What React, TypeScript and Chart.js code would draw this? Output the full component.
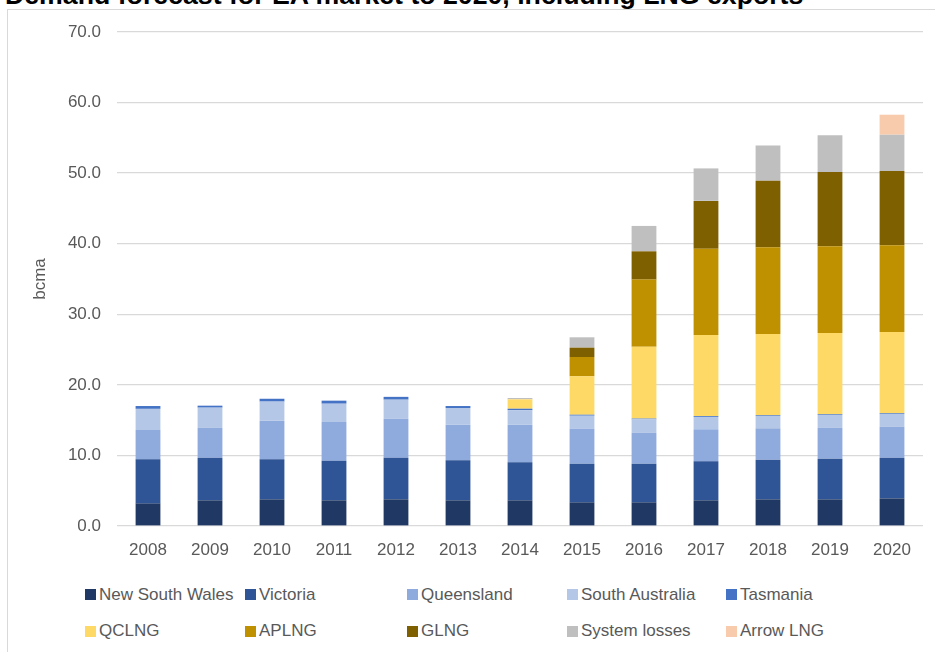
import React, { useEffect, useRef } from "react";
import { Chart, registerables } from "chart.js";

Chart.register(...registerables);

const FONT = '"Liberation Sans", Arial, sans-serif';
const TEXT_COLOR = "#595959";
const GRID_COLOR = "#d9d9d9";

const TITLE = "Demand forecast for EA market to 2020, including LNG exports";
const Y_TITLE = "bcma";

const years = ["2008", "2009", "2010", "2011", "2012", "2013", "2014", "2015", "2016", "2017", "2018", "2019", "2020"];
const yTicks = [0, 10, 20, 30, 40, 50, 60, 70];

const newSouthWales = [3.2, 3.64, 3.78, 3.64, 3.78, 3.64, 3.64, 3.36, 3.36, 3.64, 3.78, 3.78, 3.92];
const victoria = [6.25, 6.04, 5.67, 5.61, 5.9, 5.66, 5.39, 5.47, 5.47, 5.53, 5.62, 5.76, 5.76];
const queensland = [4.15, 4.25, 5.48, 5.49, 5.52, 5.06, 5.33, 4.96, 4.39, 4.53, 4.44, 4.39, 4.39];
const southAustralia = [3.0, 2.84, 2.7, 2.59, 2.7, 2.36, 2.04, 1.84, 1.9, 1.75, 1.75, 1.8, 1.8];
const tasmania = [0.4, 0.28, 0.4, 0.43, 0.4, 0.28, 0.22, 0.14, 0.1, 0.12, 0.1, 0.1, 0.1];
const qclng = [null, null, null, null, null, null, 1.33, 5.44, 10.17, 11.5, 11.5, 11.52, 11.52];
const aplng = [null, null, null, null, null, null, null, 2.74, 9.53, 12.2, 12.3, 12.28, 12.29];
const glng = [null, null, null, null, null, null, null, 1.32, 4.0, 6.8, 9.43, 10.53, 10.52];
const systemLosses = [null, null, null, null, null, null, 0.19, 1.47, 3.6, 4.6, 5.0, 5.2, 5.15];
const arrowLng = [null, null, null, null, null, null, null, null, null, null, null, null, 2.83];

const seriesNames = ["New South Wales", "Victoria", "Queensland", "South Australia", "Tasmania", "QCLNG", "APLNG", "GLNG", "System losses", "Arrow LNG"];
const seriesValues = [newSouthWales, victoria, queensland, southAustralia, tasmania, qclng, aplng, glng, systemLosses, arrowLng];
const seriesColors = ["#1F3864", "#2F5597", "#8FAADC", "#B4C7E7", "#4472C4", "#FFD966", "#BF9000", "#7F6000", "#BFBFBF", "#F8CBAD"];

// legend layout (5 columns x 2 rows)
const legendColX = [85, 245, 407, 567, 726];
const legendRowY = [594.5, 631];

export default function App() {
  const canvasRef = useRef<HTMLCanvasElement>(null);

  useEffect(() => {
    const chart = new Chart(canvasRef.current as HTMLCanvasElement, {
      type: "bar",
      data: {
        labels: years,
        datasets: seriesNames.map((name, i) => ({
          label: name,
          data: seriesValues[i] as any,
          backgroundColor: seriesColors[i],
          borderWidth: 0,
          barPercentage: 0.4,
          categoryPercentage: 1,
        })),
      },
      options: {
        responsive: false,
        animation: false,
        layout: { padding: { top: 32, right: 12, left: 0, bottom: 0 } },
        plugins: {
          legend: { display: false },
          tooltip: { enabled: false },
          title: { display: false },
        },
        scales: {
          x: {
            stacked: true,
            grid: { display: false, drawTicks: false },
            border: { display: false },
            ticks: { color: TEXT_COLOR, font: { family: FONT, size: 17 }, padding: 14 },
            afterFit: (s: any) => {
              s.height = 44;
            },
          },
          y: {
            stacked: true,
            min: yTicks[0],
            max: yTicks[yTicks.length - 1],
            afterBuildTicks: (s: any) => {
              s.ticks = yTicks.map((v) => ({ value: v }));
            },
            ticks: {
              color: TEXT_COLOR,
              font: { family: FONT, size: 17 },
              padding: 16,
              callback: (v: any) => Number(v).toFixed(1),
            },
            grid: { color: GRID_COLOR, lineWidth: 1.3, drawTicks: false },
            border: { display: false },
            title: {
              display: true,
              text: Y_TITLE,
              color: TEXT_COLOR,
              font: { family: FONT, size: 17 },
              padding: { top: 30, bottom: 0 },
            },
            afterFit: (s: any) => {
              s.width = 117;
            },
          },
        },
      },
    });
    return () => chart.destroy();
  }, []);

  return (
    <div
      style={{
        position: "fixed",
        left: 0,
        top: 0,
        width: 935,
        height: 652,
        overflow: "hidden",
        background: "#ffffff",
        fontFamily: FONT,
      }}
    >
      <div
        style={{
          position: "absolute",
          left: 7,
          top: 9,
          width: 1000,
          height: 800,
          border: "1px solid #d9d9d9",
          boxSizing: "border-box",
        }}
      />
      <div
        style={{
          position: "absolute",
          left: 5,
          top: -17.6,
          fontSize: 26.7,
          lineHeight: "26.7px",
          fontWeight: "bold",
          color: "#000000",
          whiteSpace: "nowrap",
        }}
      >
        {TITLE}
      </div>
      <canvas
        ref={canvasRef}
        width={935}
        height={570}
        style={{ position: "absolute", left: 0, top: 0, display: "block" }}
      />
      {seriesNames.map((name, i) => {
        const col = i % 5;
        const row = Math.floor(i / 5);
        return (
          <div
            key={name}
            style={{
              position: "absolute",
              left: legendColX[col],
              top: legendRowY[row] - 12,
              height: 24,
              display: "flex",
              alignItems: "center",
              whiteSpace: "nowrap",
              fontSize: 17,
              color: TEXT_COLOR,
            }}
          >
            <span
              style={{
                display: "inline-block",
                width: 11,
                height: 11,
                background: seriesColors[i],
                marginRight: 3,
              }}
            />
            <span>{name}</span>
          </div>
        );
      })}
    </div>
  );
}
